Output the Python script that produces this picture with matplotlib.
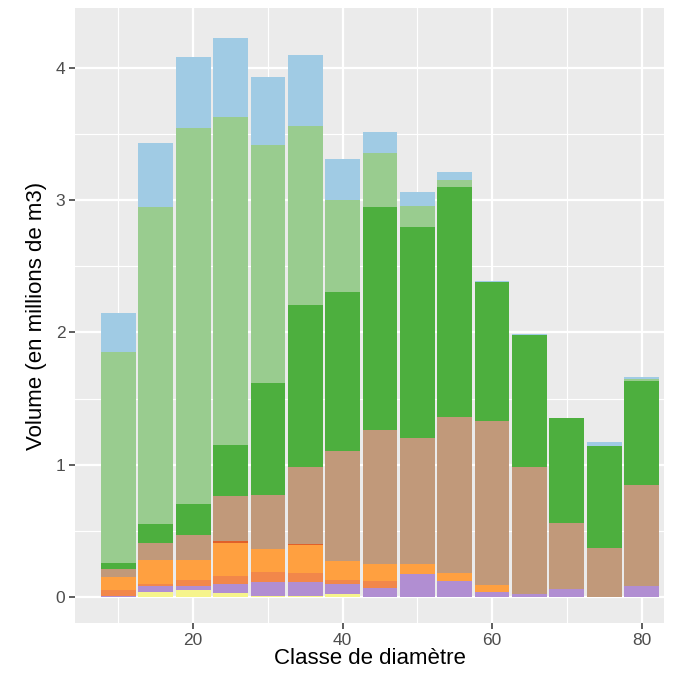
import matplotlib
matplotlib.use('Agg')
import matplotlib.pyplot as plt
import numpy as np

# classes de diamètre (cm)
classes = [10, 15, 20, 25, 30, 35, 40, 45, 50, 55, 60, 65, 70, 75, 80]

# volumes par couche (millions de m3), du bas vers le haut
yellow = [0, 0.04, 0.05, 0.03, 0.01, 0.01, 0.02, 0, 0, 0, 0, 0, 0, 0, 0]
purple = [0.01, 0.04, 0.03, 0.07, 0.10, 0.10, 0.08, 0.07, 0.17, 0.12, 0.04, 0.02, 0.06, 0, 0.08]
dark_orange = [0.04, 0.02, 0.05, 0.06, 0.08, 0.07, 0.03, 0.05, 0, 0, 0, 0, 0, 0, 0]
orange = [0.10, 0.18, 0.15, 0.25, 0.17, 0.21, 0.14, 0.13, 0.08, 0.06, 0.05, 0, 0, 0, 0]
red = [0, 0, 0, 0.01, 0, 0.01, 0, 0, 0, 0, 0, 0, 0, 0, 0]
brown = [0.06, 0.13, 0.19, 0.34, 0.41, 0.58, 0.83, 1.01, 0.95, 1.18, 1.24, 0.96, 0.50, 0.37, 0.77]
green = [0.05, 0.14, 0.23, 0.39, 0.85, 1.23, 1.21, 1.69, 1.60, 1.74, 1.05, 1.00, 0.79, 0.77, 0.78]
light_green = [1.59, 2.40, 2.85, 2.48, 1.80, 1.35, 0.69, 0.41, 0.16, 0.05, 0, 0, 0, 0, 0.02]
light_blue = [0.30, 0.48, 0.53, 0.60, 0.51, 0.54, 0.31, 0.16, 0.10, 0.06, 0.01, 0.01, 0, 0.03, 0.01]

layers = [
    (yellow, '#F6F48C'),
    (purple, '#B18ED2'),
    (dark_orange, '#F2874A'),
    (orange, '#FFA040'),
    (red, '#E0602A'),
    (brown, '#C1997A'),
    (green, '#4DAF3E'),
    (light_green, '#99CC8F'),
    (light_blue, '#A0CBE4'),
]

plt.rcParams['font.family'] = ['Liberation Sans', 'DejaVu Sans']

fig = plt.figure(figsize=(6.81, 6.86), dpi=100)
ax = fig.add_axes([75 / 681, 63 / 686, (664 - 75) / 681, (623 - 8) / 686])
ax.set_facecolor('#EBEBEB')

bottom = np.zeros(len(classes))
for vals, col in layers:
    ax.bar(classes, vals, width=4.65, bottom=bottom, color=col, linewidth=0, zorder=3)
    bottom += np.array(vals)

ax.set_xlim(4.19, 83.0)
ax.set_ylim(-0.197, 4.454)
ax.set_xticks([20, 40, 60, 80])
ax.set_yticks([0, 1, 2, 3, 4])
ax.set_xticks([10, 30, 50, 70], minor=True)
ax.set_yticks([0.5, 1.5, 2.5, 3.5], minor=True)
ax.grid(which='major', color='white', linewidth=1.6, zorder=1)
ax.grid(which='minor', color='white', linewidth=0.8, zorder=1)
ax.tick_params(which='major', length=4, width=1.1, color='#333333',
               labelcolor='#4D4D4D', labelsize=12.5, pad=3)
ax.tick_params(which='minor', length=0)
for s in ax.spines.values():
    s.set_visible(False)

ax.set_xlabel('Classe de diamètre', fontsize=16, color='black', labelpad=0)
ax.set_ylabel('Volume (en millions de m3)', fontsize=16, color='black', labelpad=6)

fig.savefig('out.png', dpi=100)
